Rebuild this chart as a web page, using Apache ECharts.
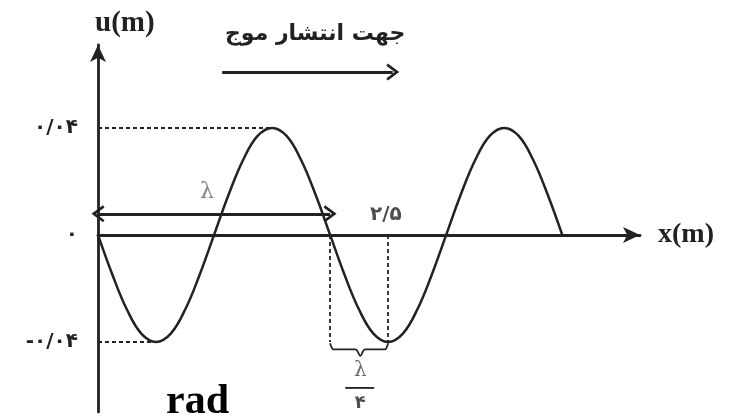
<!DOCTYPE html>
<html>
<head>
<meta charset="utf-8">
<script src="https://cdn.jsdelivr.net/npm/echarts@6/dist/echarts.min.js"></script>
<style>
  html, body { margin: 0; padding: 0; background: #fff; }
  #chart { width: 736px; height: 417px; }
</style>
</head>
<body>
<div id="chart"></div>
<script>
// Transverse wave snapshot: displacement u (m) against position x (m)
const waveX = [0, 0.125, 0.25, 0.375, 0.5, 0.625, 0.75, 0.875, 1,
  1.125, 1.25, 1.375, 1.5, 1.625, 1.75, 1.875, 2,
  2.125, 2.25, 2.375, 2.5, 2.625, 2.75, 2.875, 3,
  3.125, 3.25, 3.375, 3.5, 3.625, 3.75, 3.875, 4];
const waveU = [0, -0.015, -0.028, -0.037, -0.04, -0.037, -0.028, -0.015, 0,
  0.015, 0.028, 0.037, 0.04, 0.037, 0.028, 0.015, 0,
  -0.015, -0.028, -0.037, -0.04, -0.037, -0.028, -0.015, 0,
  0.015, 0.028, 0.037, 0.04, 0.037, 0.028, 0.015, 0];

const amplitude = 0.04;          // peak displacement
const wavelength = 2;            // λ
const crestX = 1.5;              // first crest
const troughX = 0.5;             // first trough
const markedX = 2.5;             // labelled position
const yTicks = [-0.04, 0, 0.04];
const yTickLabels = ['-۰/۰۴', '۰', '۰/۰۴'];
const markedLabel = '۲/۵';

// brace under the quarter wavelength segment
const braceX = [2, 2.03, 2.22, 2.26, 2.30, 2.47, 2.5];
const braceU = [-0.0405, -0.0428, -0.0428, -0.0452, -0.0428, -0.0428, -0.0405];

const ink = '#222';
const chevron = 'path://M12,0 L24,15 L21,17 L12,6 L3,17 L0,15 Z';

const chart = echarts.init(document.getElementById('chart'), null, { renderer: 'canvas' });

const textItem = (x, u, text, style) => ({
  value: [x, u],
  label: Object.assign({ show: true, formatter: text, position: 'inside', color: ink }, style)
});

chart.setOption({
  animation: false,
  backgroundColor: '#fff',
  title: [
    { text: 'جهت انتشار موج', left: 220, top: 18,
      textStyle: { fontFamily: 'DejaVu Sans', fontWeight: 'bold', fontSize: 22, color: ink } },
    { text: 'u(m)', left: 90, top: 4,
      textStyle: { fontFamily: 'Liberation Serif', fontWeight: 'bold', fontSize: 29, color: ink } },
    { text: 'rad', left: 161, top: 376,
      textStyle: { fontFamily: 'Liberation Serif', fontWeight: 'bold', fontSize: 42, color: '#000' } }
  ],
  grid: { left: 98, right: 96, top: 45, bottom: 5, outerBoundsMode: 'none' },
  xAxis: {
    type: 'value', min: 0, max: 4.67,
    name: 'x(m)', nameLocation: 'end', nameGap: 18,
    nameTextStyle: { fontFamily: 'Liberation Serif', fontWeight: 'bold', fontSize: 28, color: ink, verticalAlign: 'middle' },
    axisLine: { onZero: true, symbol: ['none', 'arrow'], symbolSize: [12, 17], lineStyle: { color: ink, width: 2.8 } },
    axisTick: { show: false }, axisLabel: { show: false }, splitLine: { show: false }
  },
  yAxis: {
    type: 'value', min: -0.0662, max: 0.071,
    axisLine: { symbol: ['none', 'arrow'], symbolSize: [12, 17], lineStyle: { color: ink, width: 2.8 } },
    axisTick: { show: false }, splitLine: { show: false },
    axisLabel: {
      show: true, customValues: yTicks, margin: 20,
      fontFamily: 'DejaVu Sans', fontWeight: 'bold', fontSize: 20, color: ink,
      formatter: v => {
        let best = 0;
        yTicks.forEach((t, i) => { if (Math.abs(t - v) < Math.abs(yTicks[best] - v)) best = i; });
        return yTickLabels[best];
      }
    }
  },
  series: [
    {
      name: 'wave', type: 'line', smooth: 0.4, showSymbol: false, silent: true,
      data: waveX.map((x, i) => [x, waveU[i]]),
      lineStyle: { color: ink, width: 2.5 },
      z: 5,
      markLine: {
        silent: true, symbol: ['none', 'none'], label: { show: false },
        lineStyle: { color: ink, width: 1.8, type: [4, 3] },
        data: [
          [{ coord: [0, amplitude] }, { coord: [crestX, amplitude] }],
          [{ coord: [0, -amplitude] }, { coord: [troughX, -amplitude] }],
          [{ coord: [wavelength, 0] }, { coord: [wavelength, -amplitude] }],
          [{ coord: [markedX, 0] }, { coord: [markedX, -amplitude] }]
        ]
      }
    },
    {
      name: 'lambda', type: 'line', showSymbol: false, silent: true,
      data: [[0, 0.0079], [wavelength, 0.0079]],
      lineStyle: { opacity: 0 },
      markLine: {
        silent: true, symbol: [chevron, chevron], symbolSize: [17, 13],
        label: { show: false },
        lineStyle: { color: ink, width: 2.8, type: 'solid' },
        data: [[{ coord: [0, 0.0079] }, { coord: [wavelength, 0.0079] }]]
      }
    },
    {
      name: 'direction', type: 'line', showSymbol: false, silent: true,
      data: [[1.07, 0.0609], [2.54, 0.0609]],
      lineStyle: { opacity: 0 },
      markLine: {
        silent: true, symbol: ['none', chevron], symbolSize: [17, 13],
        label: { show: false },
        lineStyle: { color: ink, width: 2.8, type: 'solid' },
        data: [[{ coord: [1.07, 0.0609] }, { coord: [2.54, 0.0609] }]]
      }
    },
    {
      name: 'brace', type: 'line', smooth: 0.3, showSymbol: false, silent: true,
      data: braceX.map((x, i) => [x, braceU[i]]),
      lineStyle: { color: ink, width: 1.8 }
    },
    {
      name: 'fractionBar', type: 'line', showSymbol: false, silent: true,
      data: [[2.13, -0.0572], [2.38, -0.0572]],
      lineStyle: { color: ink, width: 1.8 }
    },
    {
      name: 'notes', type: 'scatter', symbolSize: 0, silent: true, clip: false,
      data: [
        textItem(0.94, 0.0161, 'λ', { fontFamily: 'DejaVu Serif', fontSize: 22, color: '#666' }),
        textItem(markedX - 0.02, 0.0075, markedLabel, { fontFamily: 'DejaVu Sans', fontWeight: 'bold', fontSize: 20 }),
        textItem(2.26, -0.0508, 'λ', { fontFamily: 'DejaVu Serif', fontSize: 20, color: '#444' }),
        textItem(2.26, -0.0628, '۴', { fontFamily: 'DejaVu Sans', fontWeight: 'bold', fontSize: 18 })
      ]
    }
  ]
});
</script>
</body>
</html>
